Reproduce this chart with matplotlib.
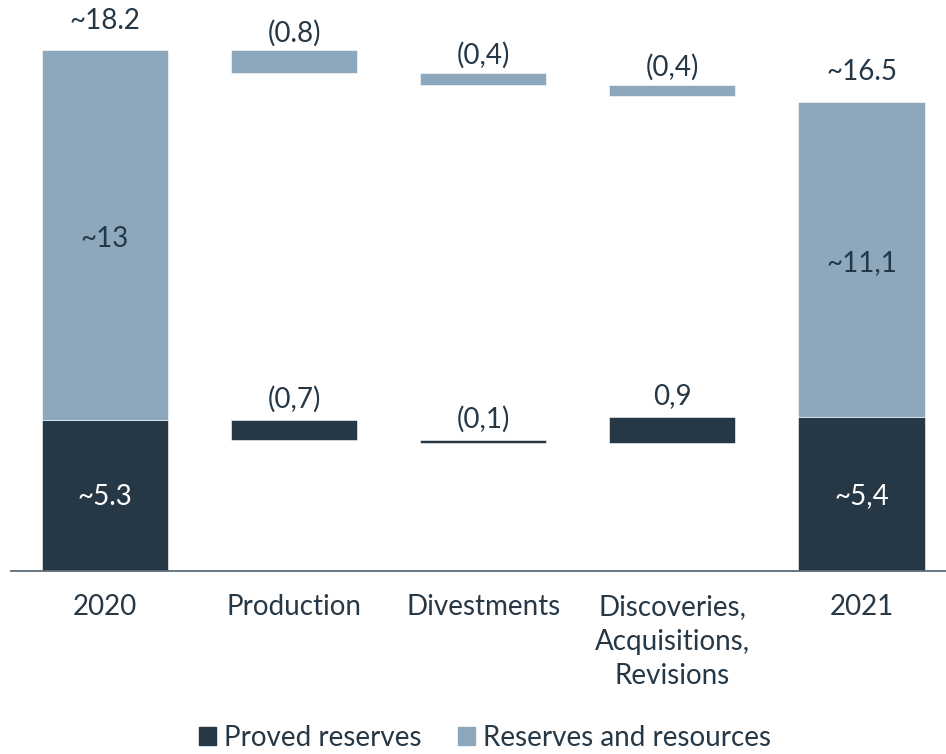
import numpy as np
import matplotlib
matplotlib.use("Agg")
import matplotlib.pyplot as plt
from matplotlib.patches import Patch

# Chart data
categories = ["2020", "Production", "Divestments", "Discoveries,\nAcquisitions,\nRevisions", "2021"]
proved = [5.3, -0.7, -0.1, 0.9, 5.4]          # proved reserves (totals at ends, deltas in between)
resources = [13.0, -0.8, -0.4, -0.4, 11.1]   # reserves and resources on top of proved
proved_labels = ["~5.3", "(0,7)", "(0,1)", "0,9", "~5,4"]
resource_labels = ["~13", "(0.8)", "(0,4)", "(0,4)", "~11,1"]
total_labels = ["~18.2", "~16.5"]

dark = "#263746"
light = "#8da8bc"

plt.rcParams['font.family'] = ['Lato', 'DejaVu Sans']

fig = plt.figure(figsize=(9.46, 7.54), dpi=100)
ax = fig.add_axes([11 / 946, 1 - 570.5 / 754, 1 - 11 / 946, 570.5 / 754])

x = np.arange(len(categories))
width = 0.667

# work out floating bar positions for the waterfall
p_bottom, p_height = [], []
r_bottom, r_height = [], []
p_level = proved[0]
t_level = proved[0] + resources[0]
for i in range(len(categories)):
    if i == 0 or i == len(categories) - 1:
        p_bottom.append(0)
        p_height.append(proved[i])
        r_bottom.append(proved[i])
        r_height.append(resources[i])
    else:
        dp = proved[i]
        p_bottom.append(min(p_level, p_level + dp))
        p_height.append(abs(dp))
        p_level += dp
        dr = resources[i]
        r_bottom.append(min(t_level, t_level + dr))
        r_height.append(abs(dr))
        t_level += dr

ax.bar(x, p_height, width, bottom=p_bottom, color=dark, edgecolor="white", linewidth=0.4)
ax.bar(x, r_height, width, bottom=r_bottom, color=light, edgecolor="white", linewidth=0.4)

fs = 20
for i in range(len(categories)):
    top_p = p_bottom[i] + p_height[i]
    top_r = r_bottom[i] + r_height[i]
    if i == 0 or i == len(categories) - 1:
        ax.annotate(proved_labels[i], (x[i], p_height[i] / 2), xytext=(0, -1.5),
                    textcoords="offset points", ha="center", va="center",
                    color="white", fontsize=fs)
        ax.annotate(resource_labels[i], (x[i], r_bottom[i] + r_height[i] / 2), xytext=(0, -2.5),
                    textcoords="offset points", ha="center", va="center",
                    color=dark, fontsize=fs)
        lbl = total_labels[0] if i == 0 else total_labels[1]
        ax.annotate(lbl, (x[i], top_r), xytext=(0, 21), textcoords="offset points",
                    ha="center", va="center", color=dark, fontsize=fs)
    else:
        ax.annotate(proved_labels[i], (x[i], top_p), xytext=(0, 15), textcoords="offset points",
                    ha="center", va="center", color=dark, fontsize=fs)
        ax.annotate(resource_labels[i], (x[i], top_r), xytext=(0, 12.5), textcoords="offset points",
                    ha="center", va="center", color=dark, fontsize=fs)

ax.set_xlim(-0.497, 4.447)
ax.set_ylim(0, 570.5 / 28.42)
ax.set_xticks(x)
ax.set_xticklabels(categories, fontsize=fs, color=dark, linespacing=1.4)
ax.tick_params(axis="x", length=0, pad=17)
ax.set_yticks([])
for s in ["top", "right", "left"]:
    ax.spines[s].set_visible(False)
ax.spines["bottom"].set_color("#5b6b7a")
ax.spines["bottom"].set_linewidth(1.3)

handles = [Patch(color=dark, label="Proved reserves"),
           Patch(color=light, label="Reserves and resources")]
fig.legend(handles=handles, loc="center", bbox_to_anchor=(0.513, 1 - 738 / 754), ncol=2,
           frameon=False, fontsize=fs, handlelength=0.6, handleheight=0.6,
           handletextpad=0.3, columnspacing=1.3, labelcolor=dark)

fig.savefig("out.png", dpi=100)
